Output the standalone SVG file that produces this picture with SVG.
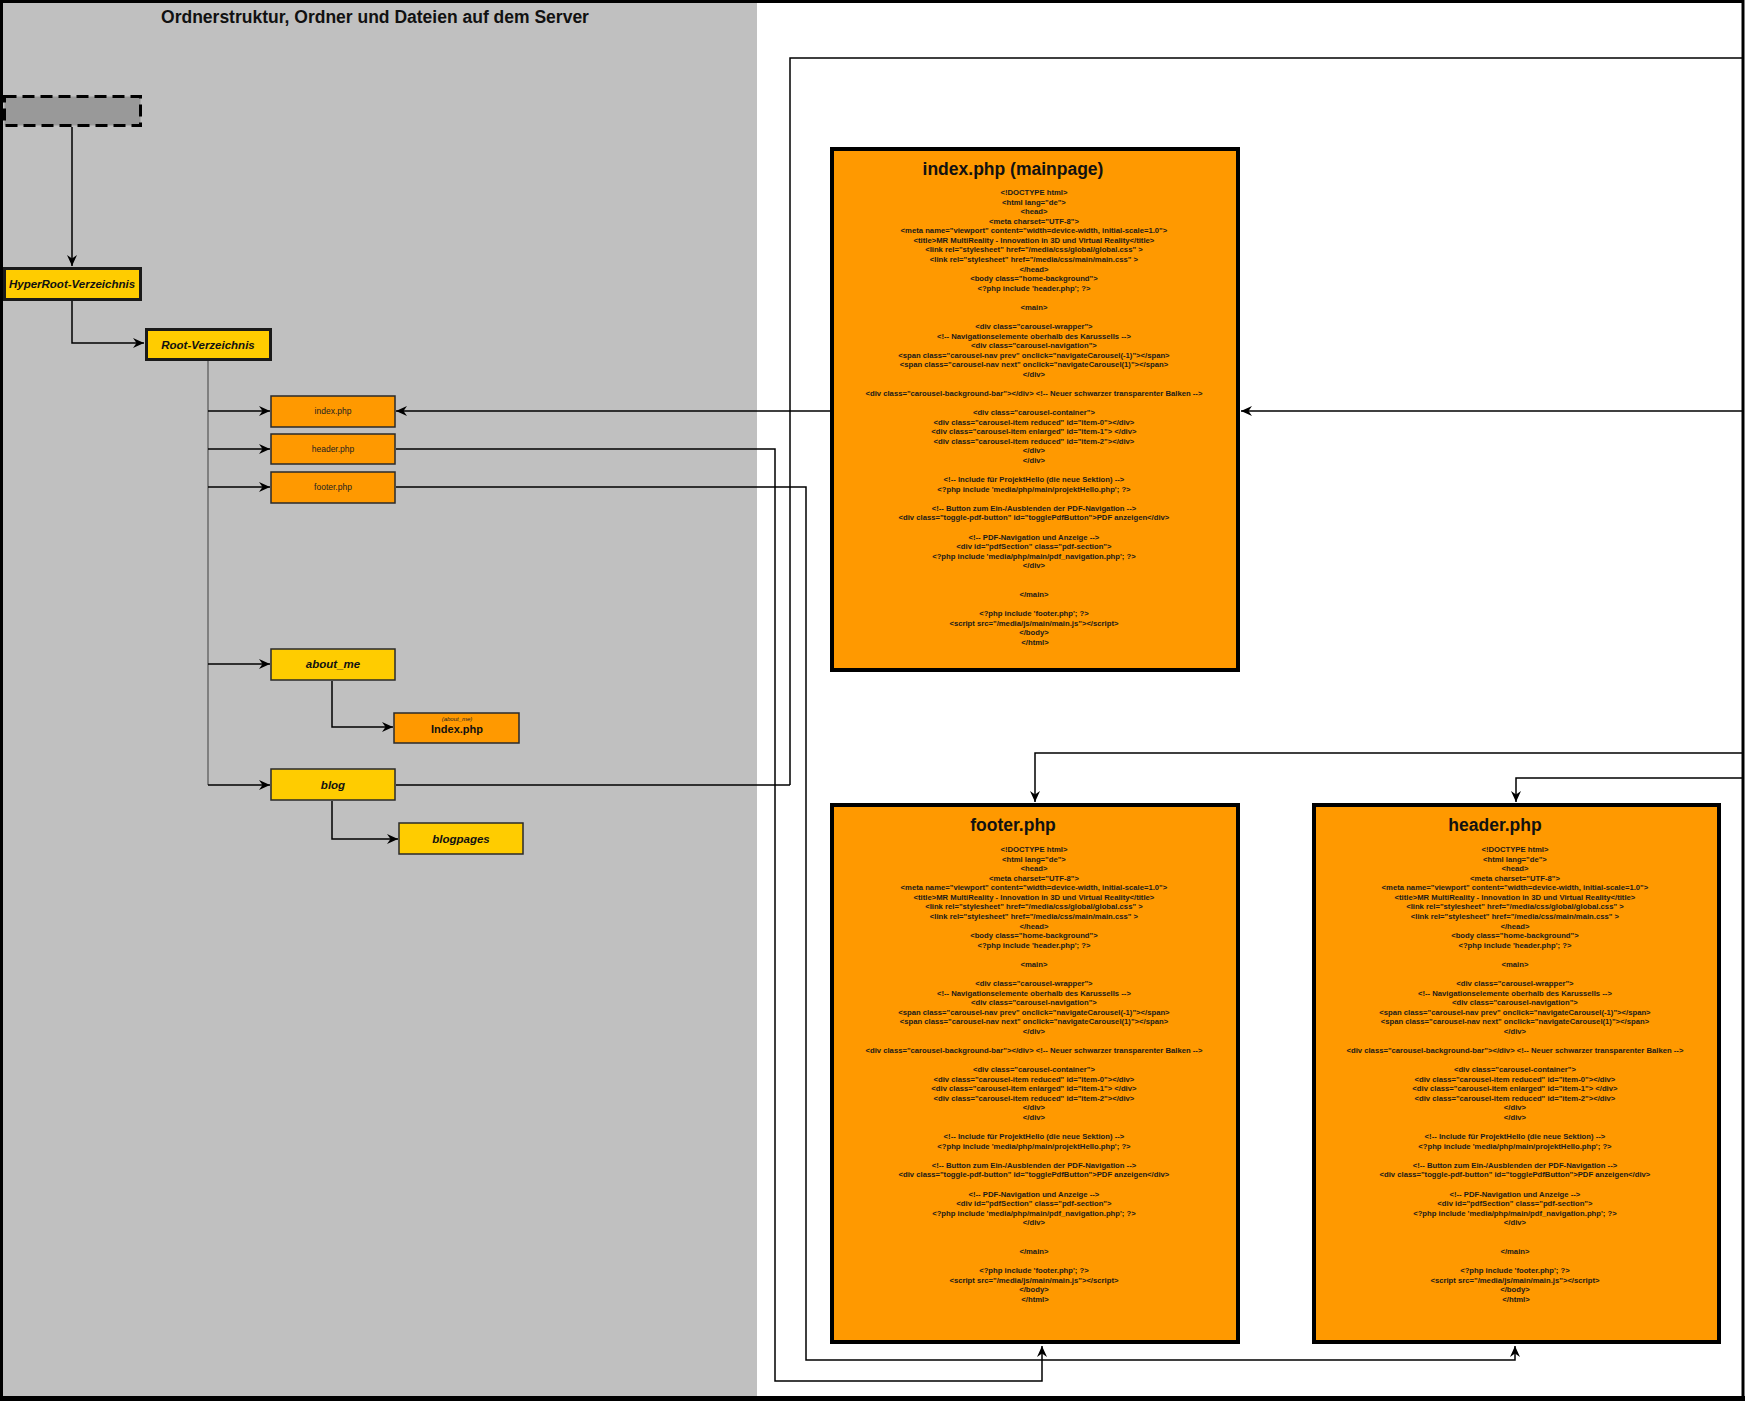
<svg xmlns="http://www.w3.org/2000/svg" width="1745" height="1401" viewBox="0 0 1745 1401">
<style>
.big{fill:#ff9900;stroke:#000;stroke-width:4}
.file{fill:#ff9900;stroke:#2a2a2a;stroke-width:1.5}
.folder{fill:#ffcc00;stroke:#2a2a2a;stroke-width:1.5}
.folderB{fill:#ffcc00;stroke:#1a1a1a;stroke-width:3}
.code{font-family:"Liberation Sans",Arial,sans-serif;font-size:7.7px;font-weight:bold;text-anchor:middle;fill:#1a1a1a}
.title{font-family:"Liberation Sans",Arial,sans-serif;font-size:17.5px;font-weight:bold;text-anchor:middle;fill:#111}
.fold{font-family:"Liberation Sans",Arial,sans-serif;font-size:11.5px;font-weight:bold;font-style:italic;text-anchor:middle;fill:#111}
.fname{font-family:"Liberation Sans",Arial,sans-serif;font-size:8.5px;text-anchor:middle;fill:#222}
.conn{fill:none;stroke:#000;stroke-width:1.5}
</style>
<defs>
<marker id="arr" markerUnits="userSpaceOnUse" markerWidth="13" markerHeight="12" refX="11" refY="6" orient="auto">
<path d="M0,1 L11,6 L0,11 L3.5,6 Z" fill="#000"/>
</marker>
</defs>
<g id="background">
<rect x="0" y="0" width="1745" height="1401" fill="#ffffff"/>
<rect x="3" y="3" width="754" height="1394" fill="#c0c0c0"/>
<rect x="1.5" y="1.5" width="1741.5" height="1396.5" fill="none" stroke="#000" stroke-width="3"/>
<line x1="0" y1="1398.5" x2="1745" y2="1398.5" stroke="#000" stroke-width="5"/>
<text x="375" y="23" font-family="'Liberation Sans',Arial,sans-serif" font-size="17.5" font-weight="bold" text-anchor="middle" fill="#111">Ordnerstruktur, Ordner und Dateien auf dem Server</text>
</g>
<g id="connectors">
<path class="conn" d="M72,127 V266" marker-end="url(#arr)"/>
<path class="conn" d="M72,301 V343 H144" marker-end="url(#arr)"/>
<path d="M208,361 V785" fill="none" stroke="#7f7f7f" stroke-width="2"/>
<path class="conn" d="M208,411 H270" marker-end="url(#arr)"/>
<path class="conn" d="M208,449 H270" marker-end="url(#arr)"/>
<path class="conn" d="M208,487 H270" marker-end="url(#arr)"/>
<path class="conn" d="M208,664 H270" marker-end="url(#arr)"/>
<path class="conn" d="M208,785 H270" marker-end="url(#arr)"/>
<path class="conn" d="M332,681 V727 H393" marker-end="url(#arr)"/>
<path class="conn" d="M332,801 V839 H398" marker-end="url(#arr)"/>
<path class="conn" d="M831,411 H396" marker-end="url(#arr)"/>
<path class="conn" d="M396,785 H790" stroke-width="3"/>
<path class="conn" d="M790,785 V58 H1743 V778 H1516 V802" stroke-width="2" marker-end="url(#arr)"/>
<path class="conn" d="M1743,753 H1035 V802" stroke-width="2.5" marker-end="url(#arr)"/>
<path class="conn" d="M1743,411 H1241" marker-end="url(#arr)"/>
<path class="conn" d="M396,449 H775 V1381 H1042 V1346" marker-end="url(#arr)"/>
<path class="conn" d="M396,487 H806 V1360 H1515 V1346" marker-end="url(#arr)"/>
</g>
<g id="root-placeholder">
<rect x="4.5" y="96.5" width="136" height="29" fill="#999999" stroke="#000" stroke-width="3" stroke-dasharray="12,6"/>
</g>
<g id="hyperroot">
<rect class="folderB" x="4.5" y="268.5" width="136" height="31"/>
<text class="fold" x="72" y="288">HyperRoot-Verzeichnis</text>
</g>
<g id="root">
<rect class="folderB" x="146.5" y="329.5" width="124" height="30"/>
<text class="fold" x="208" y="349">Root-Verzeichnis</text>
</g>
<g id="file-index">
<rect class="file" x="271" y="396" width="124" height="31"/>
<text class="fname" x="333" y="414">index.php</text>
</g>
<g id="file-header">
<rect class="file" x="271" y="434" width="124" height="30"/>
<text class="fname" x="333" y="452">header.php</text>
</g>
<g id="file-footer">
<rect class="file" x="271" y="472" width="124" height="31"/>
<text class="fname" x="333" y="490">footer.php</text>
</g>
<g id="folder-about">
<rect class="folder" x="271" y="649" width="124" height="31"/>
<text class="fold" x="333" y="668" font-size="11">about_me</text>
</g>
<g id="file-about-index">
<rect class="file" x="394" y="713" width="125" height="30"/>
<text x="457" y="721" font-family="'Liberation Sans',Arial,sans-serif" font-size="6" font-style="italic" text-anchor="middle" fill="#222">(about_me)</text>
<text x="457" y="733" font-family="'Liberation Sans',Arial,sans-serif" font-size="11" font-weight="bold" text-anchor="middle" fill="#111">Index.php</text>
</g>
<g id="folder-blog">
<rect class="folder" x="271" y="769" width="124" height="31"/>
<text class="fold" x="333" y="789" font-size="11">blog</text>
</g>
<g id="folder-blogpages">
<rect class="folder" x="399" y="823" width="124" height="31"/>
<text class="fold" x="461" y="843" font-size="11">blogpages</text>
</g>
<g id="page-index">
<rect class="big" x="832" y="149" width="406" height="521"/>
<text class="title" x="1013" y="175">index.php (mainpage)</text>
<text class="code">
<tspan x="1035" y="195">&lt;!DOCTYPE html&gt;</tspan>
<tspan x="1035" y="204.6">&lt;html lang="de"&gt;</tspan>
<tspan x="1035" y="214.1">&lt;head&gt;</tspan>
<tspan x="1035" y="223.7">&lt;meta charset="UTF-8"&gt;</tspan>
<tspan x="1035" y="233.3">&lt;meta name="viewport" content="width=device-width, initial-scale=1.0"&gt;</tspan>
<tspan x="1035" y="242.9">&lt;title&gt;MR MultiReality - Innovation in 3D und Virtual Reality&lt;/title&gt;</tspan>
<tspan x="1035" y="252.4">&lt;link rel="stylesheet" href="/media/css/global/global.css" &gt;</tspan>
<tspan x="1035" y="262">&lt;link rel="stylesheet" href="/media/css/main/main.css" &gt;</tspan>
<tspan x="1035" y="271.6">&lt;/head&gt;</tspan>
<tspan x="1035" y="281.1">&lt;body class="home-background"&gt;</tspan>
<tspan x="1035" y="290.7">&lt;?php include 'header.php'; ?&gt;</tspan>
<tspan x="1035" y="309.8">&lt;main&gt;</tspan>
<tspan x="1035" y="329">&lt;div class="carousel-wrapper"&gt;</tspan>
<tspan x="1035" y="338.6">&lt;!-- Navigationselemente oberhalb des Karussells --&gt;</tspan>
<tspan x="1035" y="348.1">&lt;div class="carousel-navigation"&gt;</tspan>
<tspan x="1035" y="357.7">&lt;span class="carousel-nav prev" onclick="navigateCarousel(-1)"&gt;&lt;/span&gt;</tspan>
<tspan x="1035" y="367.3">&lt;span class="carousel-nav next" onclick="navigateCarousel(1)"&gt;&lt;/span&gt;</tspan>
<tspan x="1035" y="376.8">&lt;/div&gt;</tspan>
<tspan x="1035" y="396">&lt;div class="carousel-background-bar"&gt;&lt;/div&gt; &lt;!-- Neuer schwarzer transparenter Balken --&gt;</tspan>
<tspan x="1035" y="415.1">&lt;div class="carousel-container"&gt;</tspan>
<tspan x="1035" y="424.7">&lt;div class="carousel-item reduced" id="item-0"&gt;&lt;/div&gt;</tspan>
<tspan x="1035" y="434.3">&lt;div class="carousel-item enlarged" id="item-1"&gt; &lt;/div&gt;</tspan>
<tspan x="1035" y="443.8">&lt;div class="carousel-item reduced" id="item-2"&gt;&lt;/div&gt;</tspan>
<tspan x="1035" y="453.4">&lt;/div&gt;</tspan>
<tspan x="1035" y="463">&lt;/div&gt;</tspan>
<tspan x="1035" y="482.1">&lt;!-- Include für ProjektHello (die neue Sektion) --&gt;</tspan>
<tspan x="1035" y="491.7">&lt;?php include 'media/php/main/projektHello.php'; ?&gt;</tspan>
<tspan x="1035" y="510.8">&lt;!-- Button zum Ein-/Ausblenden der PDF-Navigation --&gt;</tspan>
<tspan x="1035" y="520.4">&lt;div class="toggle-pdf-button" id="togglePdfButton"&gt;PDF anzeigen&lt;/div&gt;</tspan>
<tspan x="1035" y="539.5">&lt;!-- PDF-Navigation und Anzeige --&gt;</tspan>
<tspan x="1035" y="549.1">&lt;div id="pdfSection" class="pdf-section"&gt;</tspan>
<tspan x="1035" y="558.7">&lt;?php include 'media/php/main/pdf_navigation.php'; ?&gt;</tspan>
<tspan x="1035" y="568.2">&lt;/div&gt;</tspan>
<tspan x="1035" y="596.9">&lt;/main&gt;</tspan>
<tspan x="1035" y="616.1">&lt;?php include 'footer.php'; ?&gt;</tspan>
<tspan x="1035" y="625.6">&lt;script src="/media/js/main/main.js"&gt;&lt;/script&gt;</tspan>
<tspan x="1035" y="635.2">&lt;/body&gt;</tspan>
<tspan x="1035" y="644.8">&lt;/html&gt;</tspan>
</text>
</g>
<g id="page-footer">
<rect class="big" x="832" y="805" width="406" height="537"/>
<text class="title" x="1013" y="831">footer.php</text>
<text class="code">
<tspan x="1035" y="852">&lt;!DOCTYPE html&gt;</tspan>
<tspan x="1035" y="861.6">&lt;html lang="de"&gt;</tspan>
<tspan x="1035" y="871.1">&lt;head&gt;</tspan>
<tspan x="1035" y="880.7">&lt;meta charset="UTF-8"&gt;</tspan>
<tspan x="1035" y="890.3">&lt;meta name="viewport" content="width=device-width, initial-scale=1.0"&gt;</tspan>
<tspan x="1035" y="899.9">&lt;title&gt;MR MultiReality - Innovation in 3D und Virtual Reality&lt;/title&gt;</tspan>
<tspan x="1035" y="909.4">&lt;link rel="stylesheet" href="/media/css/global/global.css" &gt;</tspan>
<tspan x="1035" y="919">&lt;link rel="stylesheet" href="/media/css/main/main.css" &gt;</tspan>
<tspan x="1035" y="928.6">&lt;/head&gt;</tspan>
<tspan x="1035" y="938.1">&lt;body class="home-background"&gt;</tspan>
<tspan x="1035" y="947.7">&lt;?php include 'header.php'; ?&gt;</tspan>
<tspan x="1035" y="966.8">&lt;main&gt;</tspan>
<tspan x="1035" y="986">&lt;div class="carousel-wrapper"&gt;</tspan>
<tspan x="1035" y="995.6">&lt;!-- Navigationselemente oberhalb des Karussells --&gt;</tspan>
<tspan x="1035" y="1005.1">&lt;div class="carousel-navigation"&gt;</tspan>
<tspan x="1035" y="1014.7">&lt;span class="carousel-nav prev" onclick="navigateCarousel(-1)"&gt;&lt;/span&gt;</tspan>
<tspan x="1035" y="1024.3">&lt;span class="carousel-nav next" onclick="navigateCarousel(1)"&gt;&lt;/span&gt;</tspan>
<tspan x="1035" y="1033.8">&lt;/div&gt;</tspan>
<tspan x="1035" y="1053">&lt;div class="carousel-background-bar"&gt;&lt;/div&gt; &lt;!-- Neuer schwarzer transparenter Balken --&gt;</tspan>
<tspan x="1035" y="1072.1">&lt;div class="carousel-container"&gt;</tspan>
<tspan x="1035" y="1081.7">&lt;div class="carousel-item reduced" id="item-0"&gt;&lt;/div&gt;</tspan>
<tspan x="1035" y="1091.3">&lt;div class="carousel-item enlarged" id="item-1"&gt; &lt;/div&gt;</tspan>
<tspan x="1035" y="1100.8">&lt;div class="carousel-item reduced" id="item-2"&gt;&lt;/div&gt;</tspan>
<tspan x="1035" y="1110.4">&lt;/div&gt;</tspan>
<tspan x="1035" y="1120">&lt;/div&gt;</tspan>
<tspan x="1035" y="1139.1">&lt;!-- Include für ProjektHello (die neue Sektion) --&gt;</tspan>
<tspan x="1035" y="1148.7">&lt;?php include 'media/php/main/projektHello.php'; ?&gt;</tspan>
<tspan x="1035" y="1167.8">&lt;!-- Button zum Ein-/Ausblenden der PDF-Navigation --&gt;</tspan>
<tspan x="1035" y="1177.4">&lt;div class="toggle-pdf-button" id="togglePdfButton"&gt;PDF anzeigen&lt;/div&gt;</tspan>
<tspan x="1035" y="1196.5">&lt;!-- PDF-Navigation und Anzeige --&gt;</tspan>
<tspan x="1035" y="1206.1">&lt;div id="pdfSection" class="pdf-section"&gt;</tspan>
<tspan x="1035" y="1215.7">&lt;?php include 'media/php/main/pdf_navigation.php'; ?&gt;</tspan>
<tspan x="1035" y="1225.2">&lt;/div&gt;</tspan>
<tspan x="1035" y="1253.9">&lt;/main&gt;</tspan>
<tspan x="1035" y="1273.1">&lt;?php include 'footer.php'; ?&gt;</tspan>
<tspan x="1035" y="1282.6">&lt;script src="/media/js/main/main.js"&gt;&lt;/script&gt;</tspan>
<tspan x="1035" y="1292.2">&lt;/body&gt;</tspan>
<tspan x="1035" y="1301.8">&lt;/html&gt;</tspan>
</text>
</g>
<g id="page-header">
<rect class="big" x="1314" y="805" width="405" height="537"/>
<text class="title" x="1495" y="831">header.php</text>
<text class="code">
<tspan x="1516" y="852">&lt;!DOCTYPE html&gt;</tspan>
<tspan x="1516" y="861.6">&lt;html lang="de"&gt;</tspan>
<tspan x="1516" y="871.1">&lt;head&gt;</tspan>
<tspan x="1516" y="880.7">&lt;meta charset="UTF-8"&gt;</tspan>
<tspan x="1516" y="890.3">&lt;meta name="viewport" content="width=device-width, initial-scale=1.0"&gt;</tspan>
<tspan x="1516" y="899.9">&lt;title&gt;MR MultiReality - Innovation in 3D und Virtual Reality&lt;/title&gt;</tspan>
<tspan x="1516" y="909.4">&lt;link rel="stylesheet" href="/media/css/global/global.css" &gt;</tspan>
<tspan x="1516" y="919">&lt;link rel="stylesheet" href="/media/css/main/main.css" &gt;</tspan>
<tspan x="1516" y="928.6">&lt;/head&gt;</tspan>
<tspan x="1516" y="938.1">&lt;body class="home-background"&gt;</tspan>
<tspan x="1516" y="947.7">&lt;?php include 'header.php'; ?&gt;</tspan>
<tspan x="1516" y="966.8">&lt;main&gt;</tspan>
<tspan x="1516" y="986">&lt;div class="carousel-wrapper"&gt;</tspan>
<tspan x="1516" y="995.6">&lt;!-- Navigationselemente oberhalb des Karussells --&gt;</tspan>
<tspan x="1516" y="1005.1">&lt;div class="carousel-navigation"&gt;</tspan>
<tspan x="1516" y="1014.7">&lt;span class="carousel-nav prev" onclick="navigateCarousel(-1)"&gt;&lt;/span&gt;</tspan>
<tspan x="1516" y="1024.3">&lt;span class="carousel-nav next" onclick="navigateCarousel(1)"&gt;&lt;/span&gt;</tspan>
<tspan x="1516" y="1033.8">&lt;/div&gt;</tspan>
<tspan x="1516" y="1053">&lt;div class="carousel-background-bar"&gt;&lt;/div&gt; &lt;!-- Neuer schwarzer transparenter Balken --&gt;</tspan>
<tspan x="1516" y="1072.1">&lt;div class="carousel-container"&gt;</tspan>
<tspan x="1516" y="1081.7">&lt;div class="carousel-item reduced" id="item-0"&gt;&lt;/div&gt;</tspan>
<tspan x="1516" y="1091.3">&lt;div class="carousel-item enlarged" id="item-1"&gt; &lt;/div&gt;</tspan>
<tspan x="1516" y="1100.8">&lt;div class="carousel-item reduced" id="item-2"&gt;&lt;/div&gt;</tspan>
<tspan x="1516" y="1110.4">&lt;/div&gt;</tspan>
<tspan x="1516" y="1120">&lt;/div&gt;</tspan>
<tspan x="1516" y="1139.1">&lt;!-- Include für ProjektHello (die neue Sektion) --&gt;</tspan>
<tspan x="1516" y="1148.7">&lt;?php include 'media/php/main/projektHello.php'; ?&gt;</tspan>
<tspan x="1516" y="1167.8">&lt;!-- Button zum Ein-/Ausblenden der PDF-Navigation --&gt;</tspan>
<tspan x="1516" y="1177.4">&lt;div class="toggle-pdf-button" id="togglePdfButton"&gt;PDF anzeigen&lt;/div&gt;</tspan>
<tspan x="1516" y="1196.5">&lt;!-- PDF-Navigation und Anzeige --&gt;</tspan>
<tspan x="1516" y="1206.1">&lt;div id="pdfSection" class="pdf-section"&gt;</tspan>
<tspan x="1516" y="1215.7">&lt;?php include 'media/php/main/pdf_navigation.php'; ?&gt;</tspan>
<tspan x="1516" y="1225.2">&lt;/div&gt;</tspan>
<tspan x="1516" y="1253.9">&lt;/main&gt;</tspan>
<tspan x="1516" y="1273.1">&lt;?php include 'footer.php'; ?&gt;</tspan>
<tspan x="1516" y="1282.6">&lt;script src="/media/js/main/main.js"&gt;&lt;/script&gt;</tspan>
<tspan x="1516" y="1292.2">&lt;/body&gt;</tspan>
<tspan x="1516" y="1301.8">&lt;/html&gt;</tspan>
</text>
</g>
</svg>
